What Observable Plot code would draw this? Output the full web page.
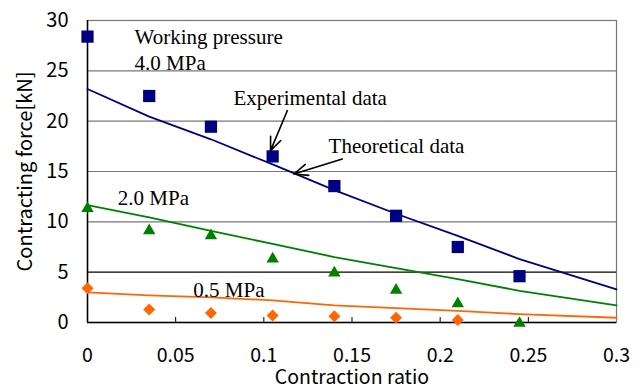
<!DOCTYPE html>
<html><head><meta charset="utf-8">
<script src="https://cdn.jsdelivr.net/npm/d3@7"></script>
<script src="https://cdn.jsdelivr.net/npm/@observablehq/plot@0.6"></script>
<style>html,body{margin:0;padding:0;background:#fff} svg{display:block}</style>
</head><body><div id="chart"></div>
<script>
// Experimental data (contraction ratio vs contracting force, kN)
const ratios = [0, 0.035, 0.07, 0.105, 0.14, 0.175, 0.21, 0.245];
const exp40 = [28.4, 22.5, 19.45, 16.5, 13.55, 10.6, 7.5, 4.6];
const exp20 = [11.5, 9.3, 8.8, 6.5, 5.1, 3.4, 2.05, 0.1];
const ratios05 = [0, 0.035, 0.07, 0.105, 0.14, 0.175, 0.21];
const exp05 = [3.4, 1.3, 0.95, 0.7, 0.63, 0.47, 0.24];
// Theoretical curves
const theoryRatios = [0, 0.035, 0.07, 0.105, 0.14, 0.175, 0.21, 0.245, 0.3];
const theory40 = [23.2, 20.45, 18.2, 15.7, 13.15, 10.8, 8.6, 6.3, 3.3];
const theory20 = [11.65, 10.45, 9.1, 7.8, 6.5, 5.4, 4.3, 3.15, 1.7];
const theory05 = [3.0, 2.7, 2.5, 2.2, 1.7, 1.43, 1.16, 0.83, 0.47];
// Ticks
const xTicks = [0, 0.05, 0.1, 0.15, 0.2, 0.25, 0.3];
const xTickLabels = ["0", "0.05", "0.1", "0.15", "0.2", "0.25", "0.3"];
const yTicks = [0, 5, 10, 15, 20, 25, 30];
// Annotations
const noteTexts = ["Working pressure", "4.0 MPa", "Experimental data", "Theoretical data", "2.0 MPa", "0.5 MPa"];
const noteX = [0.0267, 0.0267, 0.0828, 0.1367, 0.0172, 0.0600];
const noteY = [28.3, 25.8, 22.3, 17.55, 12.3, 3.25];
const arrowFromX = [0.1133, 0.1445];
const arrowFromY = [21.04, 16.24];
const arrowToX = [0.1038, 0.117];
const arrowToY = [17.07, 14.75];

const pts = (xs, ys) => xs.map((x, i) => ({x, y: ys[i]}));
const notes = noteTexts.map((t, i) => ({t, x: noteX[i], y: noteY[i]}));
const arrows = arrowFromX.map((x1, i) => ({x1, y1: arrowFromY[i], x2: arrowToX[i], y2: arrowToY[i]}));

const NAVY = "#000080", GREEN = "#008000", ORANGE = "#FF6600";
const sans = "'Noto Sans CJK JP', 'Noto Sans', sans-serif";
const serif = "'Liberation Serif', 'DejaVu Serif', serif";

const chart = Plot.plot({
  width: 641, height: 389,
  marginLeft: 87, marginRight: 25, marginTop: 20, marginBottom: 67,
  style: {fontFamily: sans, fontSize: "20px", background: "white", color: "black", overflow: "visible"},
  x: {domain: [0, 0.3]},
  y: {domain: [0, 30]},
  marks: [
    Plot.ruleY([10, 15, 20, 25], {stroke: "#777", strokeWidth: 1.2}),
    Plot.ruleY([5], {stroke: "#000", strokeWidth: 1.2}),
    Plot.frame({stroke: "#777", strokeWidth: 1.2}),
    Plot.ruleX([0], {stroke: "#000", strokeWidth: 1.5}),
    Plot.ruleY([0], {stroke: "#000", strokeWidth: 1.5}),
    Plot.axisY(yTicks, {tickSize: 0, tickPadding: 19, label: null, fontSize: 20}),
    Plot.axisX(xTicks.slice(1, -1), {tickSize: -5, tickFormat: () => "", label: null}),
    Plot.axisX(xTicks, {tickSize: 0, tickPadding: 26, tickFormat: (d, i) => xTickLabels[i], label: null, fontSize: 19.5}),
    Plot.text(["Contracting force[kN]"], {frameAnchor: "left", textAnchor: "middle", lineAnchor: "middle", rotate: -90, dx: -62, fontSize: 20, fontFamily: sans}),
    Plot.text(["Contraction ratio"], {frameAnchor: "bottom", textAnchor: "middle", lineAnchor: "middle", dy: 55, fontSize: 19.5, fontFamily: sans}),
    Plot.line(pts(theoryRatios, theory40), {x: "x", y: "y", stroke: NAVY, strokeWidth: 1.8}),
    Plot.line(pts(theoryRatios, theory20), {x: "x", y: "y", stroke: GREEN, strokeWidth: 1.8}),
    Plot.line(pts(theoryRatios, theory05), {x: "x", y: "y", stroke: ORANGE, strokeWidth: 1.8}),
    Plot.dot(pts(ratios, exp40), {x: "x", y: "y", symbol: "square", r: 6.9, fill: NAVY, stroke: null}),
    Plot.dot(pts(ratios, exp20), {x: "x", y: "y", symbol: "triangle", r: 4.6, fill: GREEN, stroke: null, dy: 1.8}),
    Plot.dot(pts(ratios05, exp05), {x: "x", y: "y", symbol: "diamond2", r: 5.4, fill: ORANGE, stroke: null}),
    Plot.text(notes, {x: "x", y: "y", text: "t", textAnchor: "start", lineAnchor: "middle", fontFamily: serif, fontSize: 21, fill: "black"}),
    Plot.arrow(arrows, {x1: "x1", y1: "y1", x2: "x2", y2: "y2", stroke: "black", strokeWidth: 1.6, headLength: 14, headAngle: 45})
  ]
});
document.getElementById("chart").appendChild(chart);
</script>
</body></html>
